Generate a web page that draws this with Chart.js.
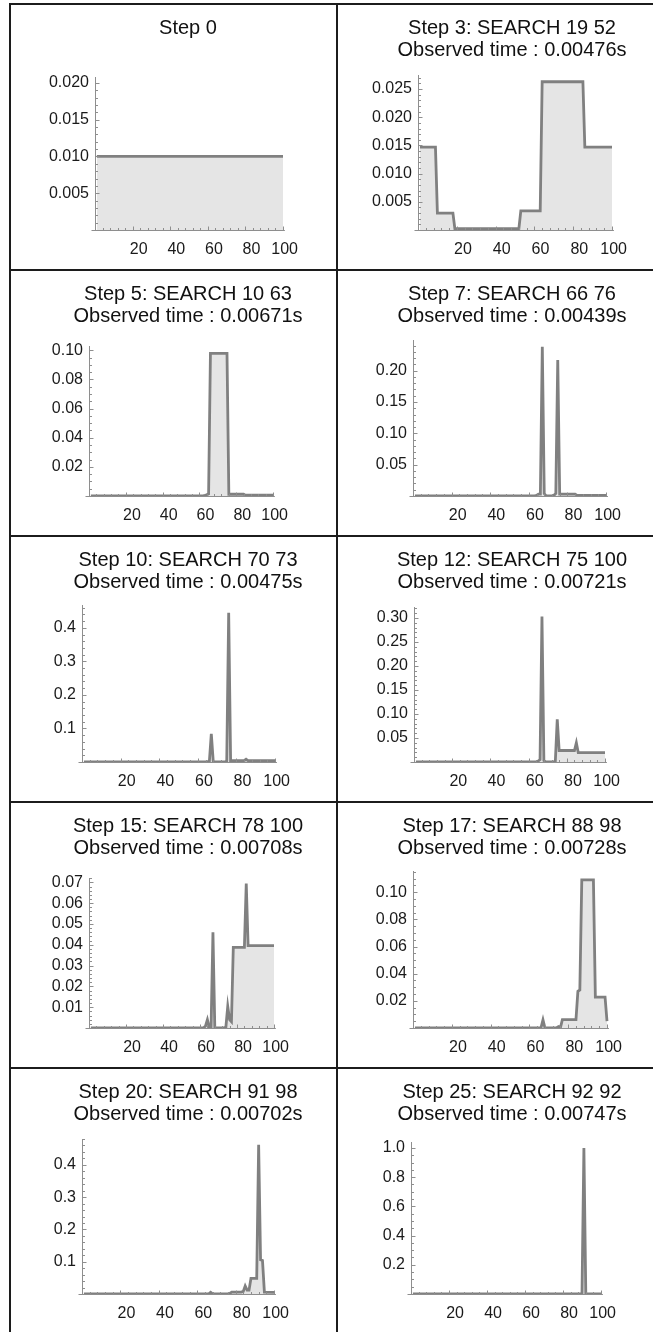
<!DOCTYPE html>
<html><head><meta charset="utf-8">
<script src="https://cdn.jsdelivr.net/npm/chart.js@4.4.1/dist/chart.umd.min.js"></script>
<style>
html,body{margin:0;padding:0;background:#fff;}
#wrap{position:relative;width:653px;height:1332px;overflow:hidden;background:#fff;}
.cell{position:absolute;}
.cell canvas{display:block;}
.gl{position:absolute;background:#1c1c1c;}
</style></head><body><div id="wrap"></div>
<script>
// ---------- titles ----------
const titles = ["Step 0", "Step 3: SEARCH 19 52", "Step 5: SEARCH 10 63", "Step 7: SEARCH 66 76",
  "Step 10: SEARCH 70 73", "Step 12: SEARCH 75 100", "Step 15: SEARCH 78 100", "Step 17: SEARCH 88 98",
  "Step 20: SEARCH 91 98", "Step 25: SEARCH 92 92"];
const observedTimes = [null, "0.00476", "0.00671", "0.00439", "0.00475", "0.00721", "0.00708", "0.00728", "0.00702", "0.00747"];

// ---------- series (position x, probability y) ----------
const step0X = [1, 100];
const step0Y = [0.01, 0.01];
const step3X = [1, 9, 10, 18, 19, 52, 53, 63, 64, 85, 86, 100];
const step3Y = [0.0147, 0.0147, 0.003, 0.003, 0.00025, 0.00025, 0.0034, 0.0034, 0.0263, 0.0263, 0.0147, 0.0147];
const step5X = [1, 62, 63, 64, 65, 66, 75, 76, 84, 85, 100];
const step5Y = [0.0001, 0.0001, 0.0004, 0.0008, 0.0015, 0.098, 0.098, 0.0012, 0.0012, 0.0005, 0.0005];
const step7X = [1, 63, 64, 65, 66, 67, 68, 69, 72, 73, 74, 75, 76, 84, 85, 100];
const step7Y = [0.0002, 0.0002, 0.001, 0.003, 0.003, 0.238, 0.004, 0.0001, 0.0001, 0.001, 0.004, 0.217, 0.003, 0.003, 0.001, 0.001];
const step10X = [1, 64, 65, 66, 67, 68, 69, 74, 75, 76, 77, 84, 85, 86, 100];
const step10Y = [0.0001, 0.0001, 0.001, 0.002, 0.084, 0.002, 0.0001, 0.0001, 0.003, 0.445, 0.004, 0.004, 0.008, 0.004, 0.004];
const step12X = [1, 63, 64, 65, 66, 67, 68, 69, 73, 74, 75, 76, 84, 85, 86, 100];
const step12Y = [0.0001, 0.0001, 0.001, 0.002, 0.005, 0.303, 0.003, 0.0001, 0.0001, 0.002, 0.089, 0.024, 0.024, 0.040, 0.0195, 0.0195];
const step15X = [1, 62, 63, 64, 65, 66, 67, 68, 73, 74, 75, 76, 77, 78, 84, 85, 86, 100];
const step15Y = [0.0001, 0.0001, 0.001, 0.004, 0.0003, 0.0005, 0.046, 0.0001, 0.0001, 0.0005, 0.0104, 0.004, 0.003, 0.0388, 0.0388, 0.0694, 0.0396, 0.0396];
const step17X = [1, 65, 66, 67, 68, 73, 74, 75, 76, 77, 84, 85, 86, 87, 93, 94, 99, 100];
const step17Y = [0.0001, 0.0001, 0.0003, 0.006, 0.0001, 0.0001, 0.0002, 0.001, 0.0003, 0.0061, 0.0061, 0.027, 0.028, 0.109, 0.109, 0.0228, 0.0228, 0.005];
const step20X = [1, 65, 66, 67, 68, 76, 77, 78, 83, 84, 85, 86, 87, 88, 91, 92, 93, 94, 95, 100];
const step20Y = [0.0001, 0.0001, 0.0005, 0.005, 0.0003, 0.0003, 0.002, 0.006, 0.006, 0.008, 0.025, 0.012, 0.012, 0.0485, 0.0485, 0.462, 0.106, 0.104, 0.006, 0.005];
const step25X = [1, 90, 91, 92, 100];
const step25Y = [0, 0, 1.0, 0, 0];

// ---------- axis ticks / ranges ----------
const xMajorTicks = [20, 40, 60, 80, 100];
const xMinorStep = 4;
const yMajor0 = [0.005, 0.010, 0.015, 0.020];
const yMajor3 = [0.005, 0.010, 0.015, 0.020, 0.025];
const yMajor5 = [0.02, 0.04, 0.06, 0.08, 0.10];
const yMajor7 = [0.05, 0.10, 0.15, 0.20];
const yMajor10 = [0.1, 0.2, 0.3, 0.4];
const yMajor12 = [0.05, 0.10, 0.15, 0.20, 0.25, 0.30];
const yMajor15 = [0.01, 0.02, 0.03, 0.04, 0.05, 0.06, 0.07];
const yMajor17 = [0.02, 0.04, 0.06, 0.08, 0.10];
const yMajor20 = [0.1, 0.2, 0.3, 0.4];
const yMajor25 = [0.2, 0.4, 0.6, 0.8, 1.0];
const yMinorSteps = [0.001, 0.001, 0.005, 0.01, 0.02, 0.01, 0.002, 0.005, 0.02, 0.05];
const yDecimals = [3, 3, 2, 2, 1, 2, 2, 2, 1, 1];
const yMaxes = [0.0208, 0.0275, 0.103, 0.249, 0.468, 0.323, 0.0721, 0.1156, 0.480, 1.041];

const seriesX = [step0X, step3X, step5X, step7X, step10X, step12X, step15X, step17X, step20X, step25X];
const seriesY = [step0Y, step3Y, step5Y, step7Y, step10Y, step12Y, step15Y, step17Y, step20Y, step25Y];
const yMajors = [yMajor0, yMajor3, yMajor5, yMajor7, yMajor10, yMajor12, yMajor15, yMajor17, yMajor20, yMajor25];

// ---------- layout (pixels, cell-relative) ----------
const colLeft = [10, 337], rowTop = [4, 270, 536, 802, 1068, 1334];
const CELL_H = 266, AXIS_Y = 226, XH = 30, L0 = 20;
const titleCX = [178, 175];
const axisXpx = [85, 81, 79, 76, 72, 77, 79, 76, 72, 74];
const x100px = [273, 275, 263, 269, 265, 268, 264, 270, 264, 264];
const plotTopPx = [73, 71, 76, 70, 69, 71, 76, 69, 71, 74];
const X_MIN = 0, X_MAX = 101;
const FONT = "'Liberation Sans', Arial, Helvetica, sans-serif";

const mmaAxes = {
  id: 'mmaAxes',
  afterDatasetsDraw(chart) {
    const {ctx, chartArea: ca, scales} = chart;
    const x = scales.x, y = scales.y;
    const ax = Math.round(ca.left) + 0.5;
    const ay = Math.round(ca.bottom) + 0.5;
    ctx.save();
    ctx.strokeStyle = '#8e8e8e';
    ctx.lineWidth = 1;
    ctx.beginPath();
    ctx.moveTo(ax, ca.top); ctx.lineTo(ax, ay);
    ctx.moveTo(ax - 4, ay); ctx.lineTo(ca.right, ay);
    y.ticks.forEach(t => {
      const p = Math.round(y.getPixelForValue(t.value)) + 0.5;
      ctx.moveTo(ax, p); ctx.lineTo(ax + (t.mj ? 4 : 2.5), p);
    });
    x.ticks.forEach(t => {
      const p = Math.round(x.getPixelForValue(t.value)) + 0.5;
      ctx.moveTo(p, ay); ctx.lineTo(p, ay - (t.mj ? 4 : 2.5));
    });
    ctx.stroke();
    ctx.restore();
  }
};

const wrap = document.getElementById('wrap');

for (let i = 0; i < 10; i++) {
  const col = i % 2, row = Math.floor(i / 2);
  const cellL = colLeft[col], cellT = rowTop[row];
  const cw = 2 * (titleCX[col] - L0);
  const div = document.createElement('div');
  div.className = 'cell';
  div.style.left = (cellL + L0) + 'px';
  div.style.top = cellT + 'px';
  const cv = document.createElement('canvas');
  cv.width = cw; cv.height = CELL_H;
  cv.style.width = cw + 'px'; cv.style.height = CELL_H + 'px';
  div.appendChild(cv);
  wrap.appendChild(div);

  const A = axisXpx[i], B = x100px[i];
  const ppu = (B - A) / (100 - X_MIN);
  const R = A + (X_MAX - X_MIN) * ppu;
  const yw = A - L0;
  const padR = cw - (R - L0);
  const titleLines = observedTimes[i] ? [titles[i], 'Observed time : ' + observedTimes[i] + 's'] : [titles[i]];
  const titleBottom = plotTopPx[i] - 13 - 22 * titleLines.length;

  const pts = seriesX[i].map((xv, k) => ({x: xv, y: seriesY[i][k]}));
  const majors = yMajors[i];
  const mstep = yMinorSteps[i];
  const yMax = yMaxes[i];
  const dec = yDecimals[i];

  new Chart(cv, {
    type: 'line',
    data: {datasets: [{
      data: pts,
      borderColor: '#808080',
      borderWidth: 2.8,
      backgroundColor: '#e5e5e5',
      fill: 'origin',
      pointRadius: 0,
      tension: 0,
      xAxisID: 'x',
      yAxisID: 'y'
    }]},
    options: {
      responsive: false,
      animation: false,
      devicePixelRatio: 1,
      events: [],
      layout: {padding: {left: 0, right: 0, top: 0, bottom: CELL_H - AXIS_Y - XH}},
      plugins: {
        legend: {display: false},
        tooltip: {enabled: false},
        title: {
          display: true,
          text: titleLines,
          color: '#111',
          font: {family: FONT, size: 20, weight: 'normal', lineHeight: '22px'},
          padding: {top: 13, bottom: titleBottom}
        }
      },
      scales: {
        x: {
          type: 'linear',
          min: X_MIN, max: X_MAX,
          grid: {display: false, drawTicks: false},
          border: {display: false},
          afterBuildTicks: s => {
            const arr = [];
            for (let v = xMinorStep; v <= 100; v += xMinorStep) arr.push({value: v, mj: xMajorTicks.includes(v)});
            s.ticks = arr;
          },
          afterFit: s => { s.height = XH; s.paddingLeft = 0; s.paddingRight = 0; },
          ticks: {
            autoSkip: false, maxRotation: 0, padding: 10,
            align: 'end', labelOffset: 15,
            color: '#1a1a1a',
            font: {family: FONT, size: 16},
            callback: (v, idx, ticks) => ticks[idx].mj ? String(v) : ''
          }
        },
        y: {
          type: 'linear',
          position: 'left',
          min: 0, max: yMax,
          grid: {display: false, drawTicks: false},
          border: {display: false},
          afterBuildTicks: s => {
            const arr = [];
            const n = Math.floor(yMax / mstep + 1e-9);
            for (let k = 1; k <= n; k++) {
              const v = Math.round(k * mstep * 1e7) / 1e7;
              arr.push({value: v, mj: majors.some(m => Math.abs(m - v) < mstep * 0.01)});
            }
            s.ticks = arr;
          },
          afterFit: s => { s.width = yw; s.paddingTop = 0; s.paddingBottom = 0; },
          ticks: {
            autoSkip: false, padding: 6,
            color: '#1a1a1a',
            font: {family: FONT, size: 16},
            callback: (v, idx, ticks) => ticks[idx].mj ? Number(v).toFixed(dec) : ''
          }
        },
        spacer: {
          type: 'linear',
          position: 'right',
          display: true,
          grid: {display: false, drawTicks: false},
          border: {display: false},
          ticks: {display: false},
          afterFit: s => { s.width = padR; s.paddingTop = 0; s.paddingBottom = 0; }
        }
      }
    },
    plugins: [mmaAxes]
  });
}

// ---------- grid frame ----------
function line(x, y, w, h) {
  const d = document.createElement('div');
  d.className = 'gl';
  d.style.left = x + 'px'; d.style.top = y + 'px';
  d.style.width = w + 'px'; d.style.height = h + 'px';
  wrap.appendChild(d);
}
[10, 337, 656].forEach(x => line(x - 1, 3, 2, 1332));
rowTop.forEach(y => line(9, y - 1, 660, 2));
</script>
</body></html>
